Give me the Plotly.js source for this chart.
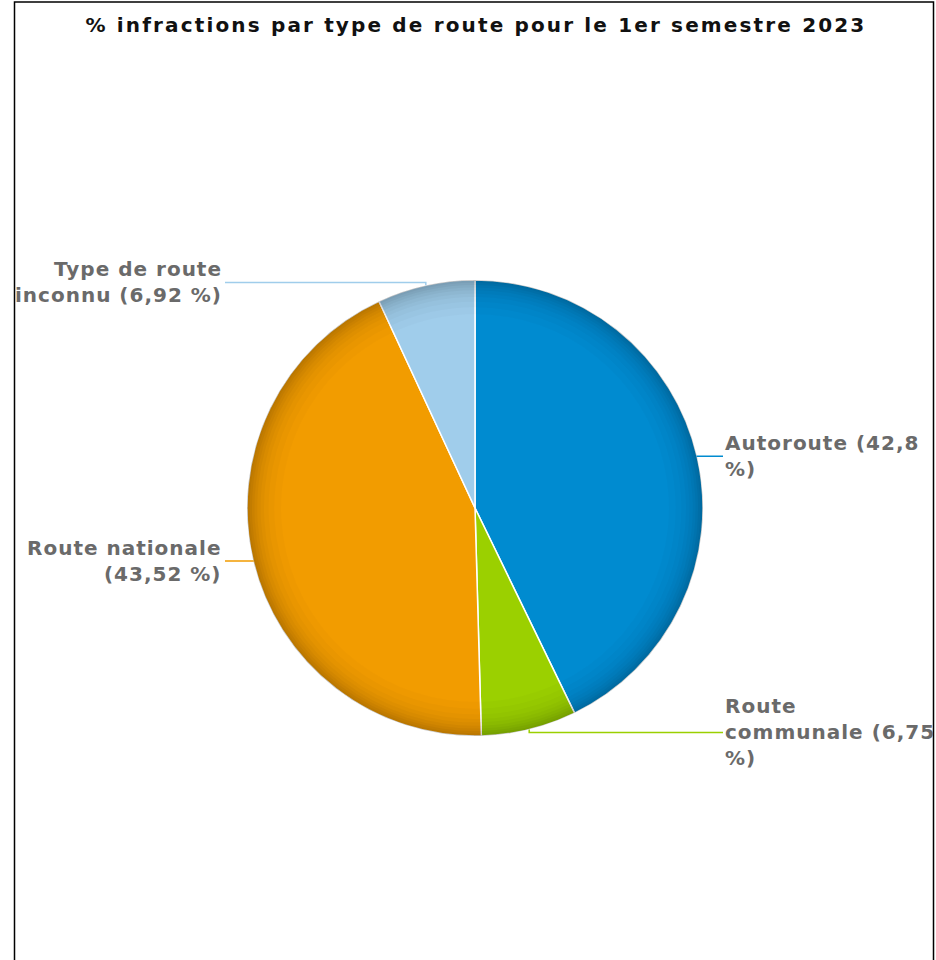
<!DOCTYPE html>
<html>
<head>
<meta charset="utf-8">
<script src="https://cdn.plot.ly/plotly-3.0.1.min.js"></script>
<style>
html,body{margin:0;padding:0;background:#fff;}
#chart{width:936px;height:960px;}
text.gtitle{letter-spacing:2.15px;}
text.annotation-text{letter-spacing:1px;}
</style>
</head>
<body>
<div id="chart"></div>
<script>
// ---- data ----
const categories = ["Autoroute", "Route communale", "Route nationale", "Type de route inconnu"];
const values = [42.8, 6.75, 43.52, 6.92];
const labelTexts = ["Autoroute (42,8<br>%)", "Route<br>communale (6,75<br>%)", "Route nationale<br>(43,52 %)", "Type de route<br>inconnu (6,92 %)"];
const colors = ["#008bd0", "#9bd000", "#f29c00", "#a0cdeb"];

// ---- layout constants (pixels) ----
const W = 936, H = 960;
const CX = 475, CY = 508, R = 228;
const LEFT_LABEL_X = 224, RIGHT_LABEL_X = 723;

const px = x => x / W;
const py = y => 1 - y / H;
const domain = {x: [px(CX - R), px(CX + R)], y: [py(CY + R), py(CY - R)]};

const traces = [{
  type: 'pie', values: values, labels: categories, sort: false, direction: 'clockwise', rotation: 0,
  marker: {colors: colors, line: {color: '#ffffff', width: 1.5}},
  textinfo: 'none', hoverinfo: 'label+percent', domain: domain, showlegend: false
}];

// soft rim shading
const rings = [[0.85, 0.015], [0.88, 0.02], [0.905, 0.02], [0.925, 0.025], [0.94, 0.025],
               [0.955, 0.03], [0.967, 0.03], [0.978, 0.035], [0.988, 0.035]];
rings.forEach(([h, a]) => {
  traces.push({
    type: 'pie', values: values, labels: categories, sort: false, direction: 'clockwise', rotation: 0,
    hole: h, marker: {colors: values.map(() => 'rgba(0,0,0,' + a + ')'), line: {width: 0}},
    textinfo: 'none', hoverinfo: 'skip', domain: domain, showlegend: false
  });
});

// labels & connectors computed from the data
const total = values.reduce((s, v) => s + v, 0);
const annotations = [], shapes = [];
let cum = 0;
values.forEach((v, i) => {
  const mid = (cum + v / 2) / total * 2 * Math.PI;
  cum += v;
  const ex = CX + R * Math.sin(mid);
  const ey = CY - R * Math.cos(mid);
  const right = ex >= CX;
  const lx = right ? RIGHT_LABEL_X : LEFT_LABEL_X;
  const ly = ey + 3 * (-Math.cos(mid));
  annotations.push({
    xref: 'paper', yref: 'paper', x: px(lx), y: py(ly),
    xanchor: right ? 'left' : 'right', yanchor: 'middle', align: right ? 'left' : 'right',
    text: labelTexts[i], showarrow: false,
    font: {family: 'DejaVu Sans', size: 20, color: '#6a6a6a', weight: 'bold'}
  });
  shapes.push({
    type: 'path', xref: 'paper', yref: 'paper',
    path: 'M' + px(right ? lx : lx + 1) + ',' + py(ly) + ' L' + px(ex) + ',' + py(ly) + ' L' + px(ex) + ',' + py(ey),
    line: {color: colors[i], width: 1.5}
  });
});

// frame
shapes.push({type: 'path', xref: 'paper', yref: 'paper',
  path: 'M' + px(14.5) + ',-0.05 L' + px(14.5) + ',' + py(2) + ' L' + px(933.5) + ',' + py(2) + ' L' + px(933.5) + ',-0.05',
  line: {color: '#000000', width: 1.5}});

const layout = {
  width: W, height: H,
  margin: {l: 0, r: 0, t: 0, b: 0},
  paper_bgcolor: '#ffffff',
  title: {text: '% infractions par type de route pour le 1er semestre 2023', x: px(476), xanchor: 'center',
          y: py(25), yanchor: 'middle',
          font: {family: 'DejaVu Sans', size: 20, color: '#111111', weight: 'bold'}},
  annotations: annotations,
  shapes: shapes,
  showlegend: false
};

Plotly.newPlot('chart', traces, layout, {displayModeBar: false, staticPlot: true});
</script>
</body>
</html>
